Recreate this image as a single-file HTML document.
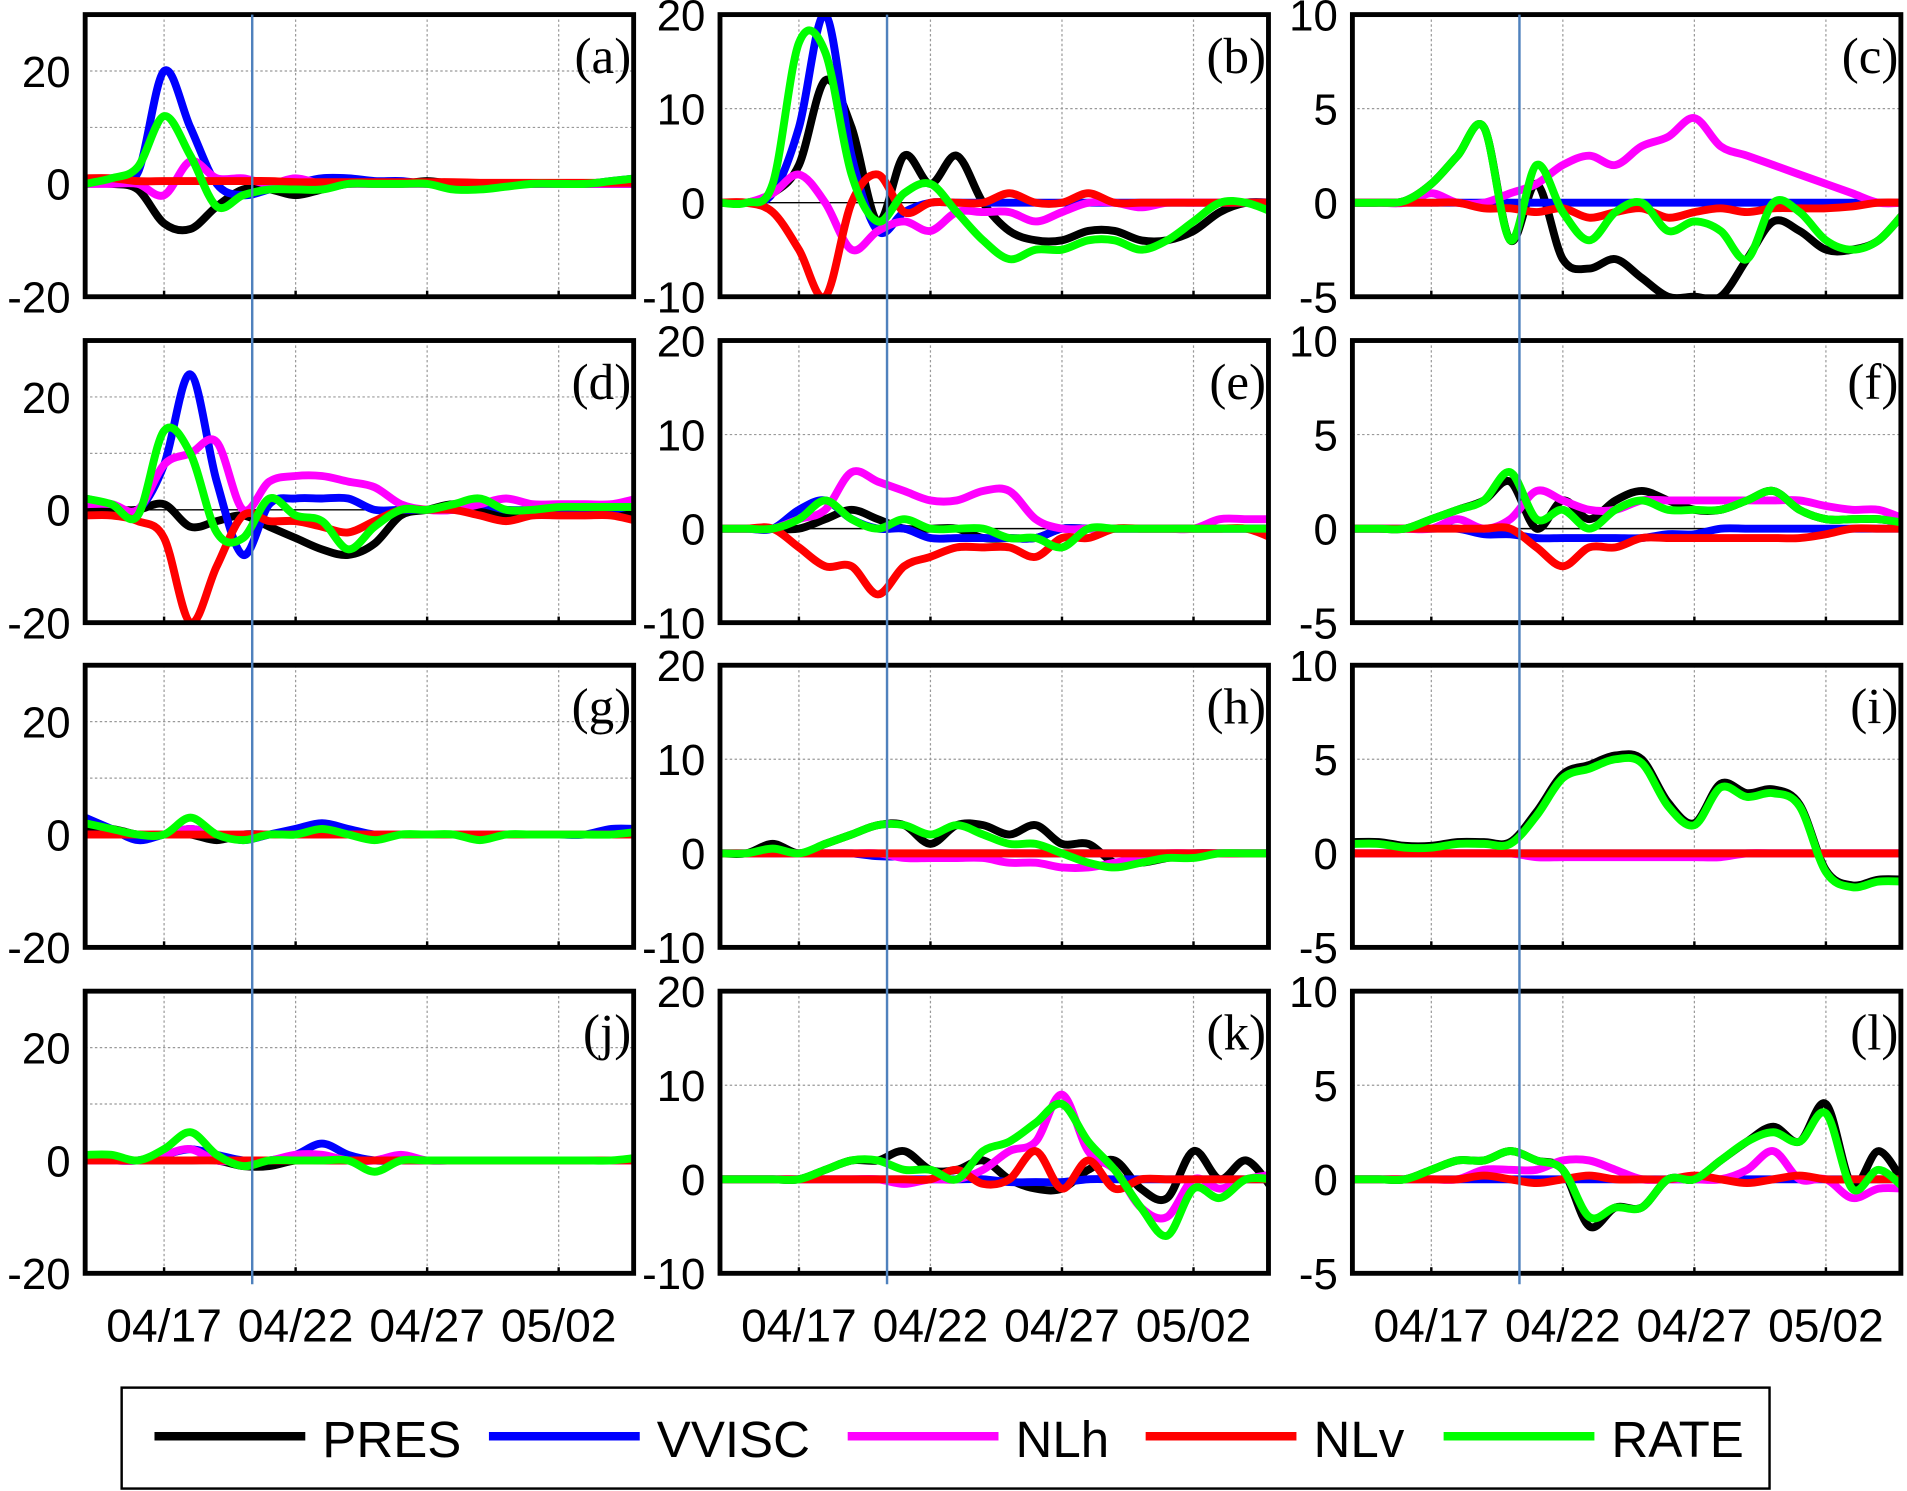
<!DOCTYPE html>
<html><head><meta charset="utf-8"><style>
html,body{margin:0;padding:0;background:#fff;}
svg{display:block;}
</style></head><body>
<svg id="fig" width="1907" height="1491" viewBox="0 0 1568 1226" xmlns="http://www.w3.org/2000/svg"></svg>
<script>
const dateLabels = ["04/17","04/22","04/27","05/02"];
const dateTicks = [3,8,13,18];
const panelLabels = ["(a)","(b)","(c)","(d)","(e)","(f)","(g)","(h)","(i)","(j)","(k)","(l)"];
const seriesNames = ["PRES","VVISC","NLh","NLv","RATE"];
const seriesColors = ["#000000","#0000ff","#ff00ff","#ff0000","#00ff00"];
const yTicksCol1 = [-20,0,20];
const yTicksCol2 = [-10,0,10,20];
const yTicksCol3 = [-5,0,5,10];
const eventDay = 6.35;
// order of series in each panel: PRES, VVISC, NLh, NLv, RATE ; daily values t=0..21
const pa = [
 [0,0,-1,-7,-8,-4,-1,-1,-2,-1,0,0,0,0.5,0,0,0,0,0,0,0,0],
 [0,1,2,20,10,0,-2,-1,0,1,1,0.5,0.5,0,0,0,0,0,0,0,0.5,1],
 [0,0,0,-2,4,1,1,0,1,0,0,0,0,0,0,-0.5,0,0,0,0,0,0],
 [1,1,0.5,0.5,0.5,0.5,0.5,0.5,0.3,0.3,0.3,0.3,0.3,0.3,0.3,0.2,0.2,0.2,0.2,0.2,0.2,0.2],
 [0,1,3,12,5,-4,-2,-1,-1,-1,0,0,0,0,-1,-1,-0.5,0,0,0,0.5,1]];
const pb = [
 [0,0,1,4,13,8,-2,5,2,5,0,-3,-4,-4,-3,-3,-4,-4,-3,-1,0,0],
 [0,0,1,8,20,5,-3,-1,0,0,0,0,0,0,0,0,0,0,0,0,0,0],
 [0,0,1,3,0,-5,-3,-2,-3,-1,-1,-1,-2,-1,0,0,-0.5,0,0,0,0,0],
 [0,0,-1,-5,-10,0,3,-1,0,0,0,1,0,0,1,0,0,0,0,0,0,0],
 [0,0,2,17,16,3,-2,1,2,-1,-4,-6,-5,-5,-4,-4,-5,-4,-2,0,0,-1]];
const pc = [
 [0,0,0.1,1,2.5,4,-2,1,-3,-3.5,-3,-4,-5,-5,-5,-3,-1,-1.5,-2.5,-2.5,-2,-0.5],
 [0,0,0,0,0,0,0,0,0,0,0,0,0,0,0,0,0,0,0,0,0,0],
 [0,0,0,0.5,0,0,0.5,1,2,2.5,2,3,3.5,4.5,3,2.5,2,1.5,1,0.5,0,0],
 [0,0,0,0,0,-0.3,-0.3,-0.5,-0.3,-0.8,-0.5,-0.3,-0.8,-0.5,-0.3,-0.5,-0.3,-0.3,-0.3,-0.2,0,0],
 [0,0,0.1,1,2.5,4,-2,2,-0.5,-2,-0.5,0,-1.5,-1,-1.5,-3,0,-0.5,-2,-2.5,-2,-0.5]];
const pd = [
 [0,0,0,1,-3,-2,-1,-3,-5,-7,-8,-6,-1,0,1,0,-1,0,0,0,0,-1],
 [2,1,0,8,24,5,-8,1,2,2,2,0,0,0,0,1,0,0,0,0,0,1],
 [1,1,0,8,10,12,0,5,6,6,5,4,1,0,0,1,2,1,1,1,1,2],
 [-1,-1,-2,-5,-20,-10,-1,-2,-2,-3,-4,-2,0,0,0,-1,-2,-1,-1,-1,-1,-2],
 [2,1,-1,14,10,-4,-5,2,-1,-2,-7,-3,0,0,1,2,0,0,0.5,0.5,0.5,0.5]];
const pe = [
 [0,0,0,0,1,2,1,0,0,0,-1,-1,-1,0,0,0,0,0,0,0,0,0],
 [0,0,0,2,3,1,0,0,-1,-1,-1,-1,-1,0,0,0,0,0,0,0,0,0],
 [0,0,0,1,2,6,5,4,3,3,4,4,1,0,0,0,0,0,0,1,1,1],
 [0,0,0,-2,-4,-4,-7,-4,-3,-2,-2,-2,-3,-1,-1,0,0,0,0,0,0,-1],
 [0,0,0,1,3,1,0,1,0,0,0,-1,-1,-2,0,0,0,0,0,0,0,0]];
const pf = [
 [0,0,0,0.5,1,1.5,2.5,0,1.5,0.5,1.5,2,1.5,1,1,1.5,2,1,0.5,0.5,0.5,0.3],
 [0,0,0,0,0,-0.3,-0.3,-0.5,-0.5,-0.5,-0.5,-0.5,-0.3,-0.3,0,0,0,0,0,0,0,0],
 [0,0,0,0,0.5,0,0.5,2,1.5,1,1,1.5,1.5,1.5,1.5,1.5,1.5,1.5,1.2,1,1,0.5],
 [0,0,0,0,0,0,0,-1,-2,-1,-1,-0.5,-0.5,-0.5,-0.5,-0.5,-0.5,-0.5,-0.3,0,0,0],
 [0,0,0,0.5,1,1.5,3,0.5,1,0,1,1.5,1,1,1,1.5,2,1,0.5,0.5,0.5,0.3]];
const pg = [
 [1,1,0,0,0,-1,0,0,0,0,0,0,0,0,0,0,0,0,0,0,0,0],
 [3,1,-1,0,1,0,-1,0,1,2,1,0,0,0,0,0,0,0,0,0,1,1],
 [0,0,0,0,1,0,0,0,0,0,0,0,0,0,0,0,0,0,0,0,0,0],
 [0,0,0,0,0,0,0,0,0,0,0,0,0,0,0,0,0,0,0,0,0,0],
 [2,1,0,0,3,0,-1,0,0,1,0,-1,0,0,0,-1,0,0,0,0,0,0.5]];
const ph = [
 [0,0,1,0,1,2,3,3,1,3,3,2,3,1,1,-1,-1,-0.5,0,0,0,0],
 [0,0,0,0,0,0,-0.3,-0.3,0,0,0,0,0,0,0,0,0,0,0,0,0,0],
 [0,0,0,0,0,0,0,-0.5,-0.5,-0.5,-0.5,-1,-1,-1.5,-1.5,-1,-0.5,0,0,0,0,0],
 [0,0,0,0,0,0,0,0,0,0,0,0,0,0,0,0,0,0,0,0,0,0],
 [0,0,0.5,0,1,2,3,3,2,3,2,1,1,0,-1,-1.5,-1,-0.5,-0.5,0,0,0]];
const pi = [
 [0.6,0.6,0.4,0.4,0.6,0.6,0.6,2.2,4.2,4.7,5.2,5,2.7,1.6,3.7,3.2,3.4,2.6,-0.9,-1.7,-1.4,-1.4],
 [0,0,0,0,0,0,0,0,0,0,0,0,0,0,0,0,0,0,0,0,0,0],
 [0,0,0,0,0,0,0,-0.2,-0.2,-0.2,-0.2,-0.2,-0.2,-0.2,-0.2,0,0,0,0,0,0,0],
 [0,0,0,0,0,0,0,0,0,0,0,0,0,0,0,0,0,0,0,0,0,0],
 [0.5,0.5,0.3,0.3,0.5,0.5,0.5,2,4,4.5,5,4.8,2.5,1.5,3.5,3,3.2,2.5,-1,-1.8,-1.5,-1.5]];
const pj = [
 [0,0,0,0,0,0,-1,-1,0,0,0,0,0,0,0,0,0,0,0,0,0,0],
 [0,0,0,1,2,1,0,0,1,3,1,0,0,0,0,0,0,0,0,0,0,0],
 [0,0,0,1,2,0,0,0,1,1,0,0,1,0,0,0,0,0,0,0,0,0],
 [0,0,0,0,0,0,0,0,0,0,0,0,0,0,0,0,0,0,0,0,0,0],
 [1,1,0,2,5,1,-1,0,0,0,0,-2,0,0,0,0,0,0,0,0,0,0.5]];
const pk = [
 [0,0,0,0,1,2,2,3,1,1,2,0,-1,-1,1,2,-1,-2,3,0,2,-1],
 [0,0,0,0,0,0,0,0,0,0,0,-0.3,-0.3,-0.3,0,0,0,0,0,0,0,0],
 [0,0,0,0,0,0,0,-0.5,0,0,1,3,4,9,3,1,-3,-4,0,-1,0,0.5],
 [0,0,0,0,0,0,0,0,0,1,-0.5,0,3,-1,2,-1,0,0,0,0,0,0],
 [0,0,0,0,1,2,2,1,1,0,3,4,6,8,4,1,-3,-6,-1,-2,0,0]];
const pl = [
 [0,0,0,0.5,1,1,1.5,1,0.5,-2.5,-1.5,-1.5,0,0,1,2,2.8,2,4,-0.3,1.5,-0.3],
 [0,0,0,0,0,0,0,0,0,0,0,0,0,0,0,0,0,0,0,0,0,0],
 [0,0,0,0,0,0.5,0.5,0.5,1,1,0.5,0,0,0,0,0.5,1.5,0,0,-1,-0.5,-0.5],
 [0,0,0,0,0,0.2,0,-0.2,0,0.2,0,0,0,0.2,0,-0.2,0,0.2,0,0,0,0],
 [0,0,0,0.5,1,1,1.5,1,0.5,-2,-1.5,-1.5,0,0,1,2,2.5,2,3.5,-0.5,0.5,-0.5]];
const panelData = [pa,pb,pc,pd,pe,pf,pg,ph,pi,pj,pk,pl];

const NS="http://www.w3.org/2000/svg";
const svg=document.getElementById('fig');
function mk(tag,attrs,parent){const e=document.createElementNS(NS,tag);for(const k in attrs)e.setAttribute(k,attrs[k]);(parent||svg).appendChild(e);return e;}
const colX=[70,592,1112], W=451;
const rowY=[12,280,547,815], H=232;
const domains=[[-20,30],[-10,20],[-5,10]];
const ticksByCol=[yTicksCol1,yTicksCol2,yTicksCol3];
const gridByCol=[[10,20],[10],[5]];
const TMAX=20.85;
function smoothPath(pts){
  let d="M"+pts[0][0].toFixed(1)+","+pts[0][1].toFixed(1);
  for(let i=0;i<pts.length-1;i++){
    const p0=pts[Math.max(i-1,0)],p1=pts[i],p2=pts[i+1],p3=pts[Math.min(i+2,pts.length-1)];
    const c1x=p1[0]+(p2[0]-p0[0])/6,c1y=p1[1]+(p2[1]-p0[1])/6;
    const c2x=p2[0]-(p3[0]-p1[0])/6,c2y=p2[1]-(p3[1]-p1[1])/6;
    d+=" C"+c1x.toFixed(1)+","+c1y.toFixed(1)+" "+c2x.toFixed(1)+","+c2y.toFixed(1)+" "+p2[0].toFixed(1)+","+p2[1].toFixed(1);
  }
  return d;
}
for(let r=0;r<4;r++){for(let c=0;c<3;c++){
  const idx=r*3+c, x0=colX[c], y0=rowY[r];
  const [ymin,ymax]=domains[c];
  const xs=t=>x0+t/TMAX*W;
  const ys=v=>y0+H-(v-ymin)/(ymax-ymin)*H;
  const g=mk('g',{});
  
  
  const clipId='clip'+idx;
  const cp=mk('clipPath',{id:clipId},g); mk('rect',{x:x0,y:y0,width:W,height:H},cp);
  dateTicks.forEach(t=>{const l=mk('line',{x1:xs(t),x2:xs(t),y1:y0,y2:y0+H,stroke:'#999','stroke-width':1,'stroke-dasharray':'2,2'},g);
    });
  gridByCol[c].forEach(v=>{const l=mk('line',{x1:x0,x2:x0+W,y1:ys(v),y2:ys(v),stroke:'#999','stroke-width':1,'stroke-dasharray':'2,2'},g);
    });
  const zl=mk('line',{x1:x0,x2:x0+W,y1:ys(0),y2:ys(0),stroke:'#000','stroke-width':1.2},g);
  
  const sg=mk('g',{'clip-path':'url(#'+clipId+')'},g);
  panelData[idx].forEach((vals,s)=>{
    const pts=vals.map((v,t)=>[xs(t),ys(v)]);
    const p=mk('path',{d:smoothPath(pts),fill:'none',stroke:seriesColors[s],'stroke-width':6.5,'stroke-linejoin':'round','stroke-linecap':'round'},sg);
    
    
  });
  dateTicks.forEach(t=>{mk('line',{x1:xs(t),x2:xs(t),y1:y0+H,y2:y0+H-5,stroke:'#000','stroke-width':2},g);});
  const fr=mk('rect',{x:x0,y:y0,width:W,height:H,fill:'none',stroke:'#000','stroke-width':4},g);
  
  ticksByCol[c].forEach(v=>{const tx=mk('text',{x:x0-12,y:ys(v)+13,'text-anchor':'end','font-family':'Liberation Sans, sans-serif','font-size':36,fill:'#000'},g);
    tx.textContent=String(v);});
  const pl2=mk('text',{x:x0+W-2,y:y0+48,'text-anchor':'end','font-family':'Liberation Serif, serif','font-size':42,fill:'#000'},g);
  pl2.textContent=panelLabels[idx];
  if(r===3){dateTicks.forEach((t,k)=>{const tx=mk('text',{x:xs(t),y:1103,'text-anchor':'middle','font-family':'Liberation Sans, sans-serif','font-size':38,fill:'#000'},g);
    tx.textContent=dateLabels[k];});}
}}
for(let c=0;c<3;c++){const x=colX[c]+eventDay/TMAX*W;
  const l=mk('line',{x1:x,x2:x,y1:12,y2:1056,stroke:'#4f81bd','stroke-width':2});
  }
const lg=mk('g',{});

const lb=mk('rect',{x:100,y:1141,width:1355,height:83,fill:'#fff',stroke:'#000','stroke-width':2},lg);

const legX=[127,402,697,942,1187];
seriesNames.forEach((n,s)=>{const eg=mk('g',{},lg);
  
  mk('line',{x1:legX[s],x2:legX[s]+124,y1:1181,y2:1181,stroke:seriesColors[s],'stroke-width':7},eg);
  const t=mk('text',{x:legX[s]+138,y:1198,'font-family':'Liberation Sans, sans-serif','font-size':42,fill:'#000'},eg);t.textContent=n;});
</script>
</body></html>
